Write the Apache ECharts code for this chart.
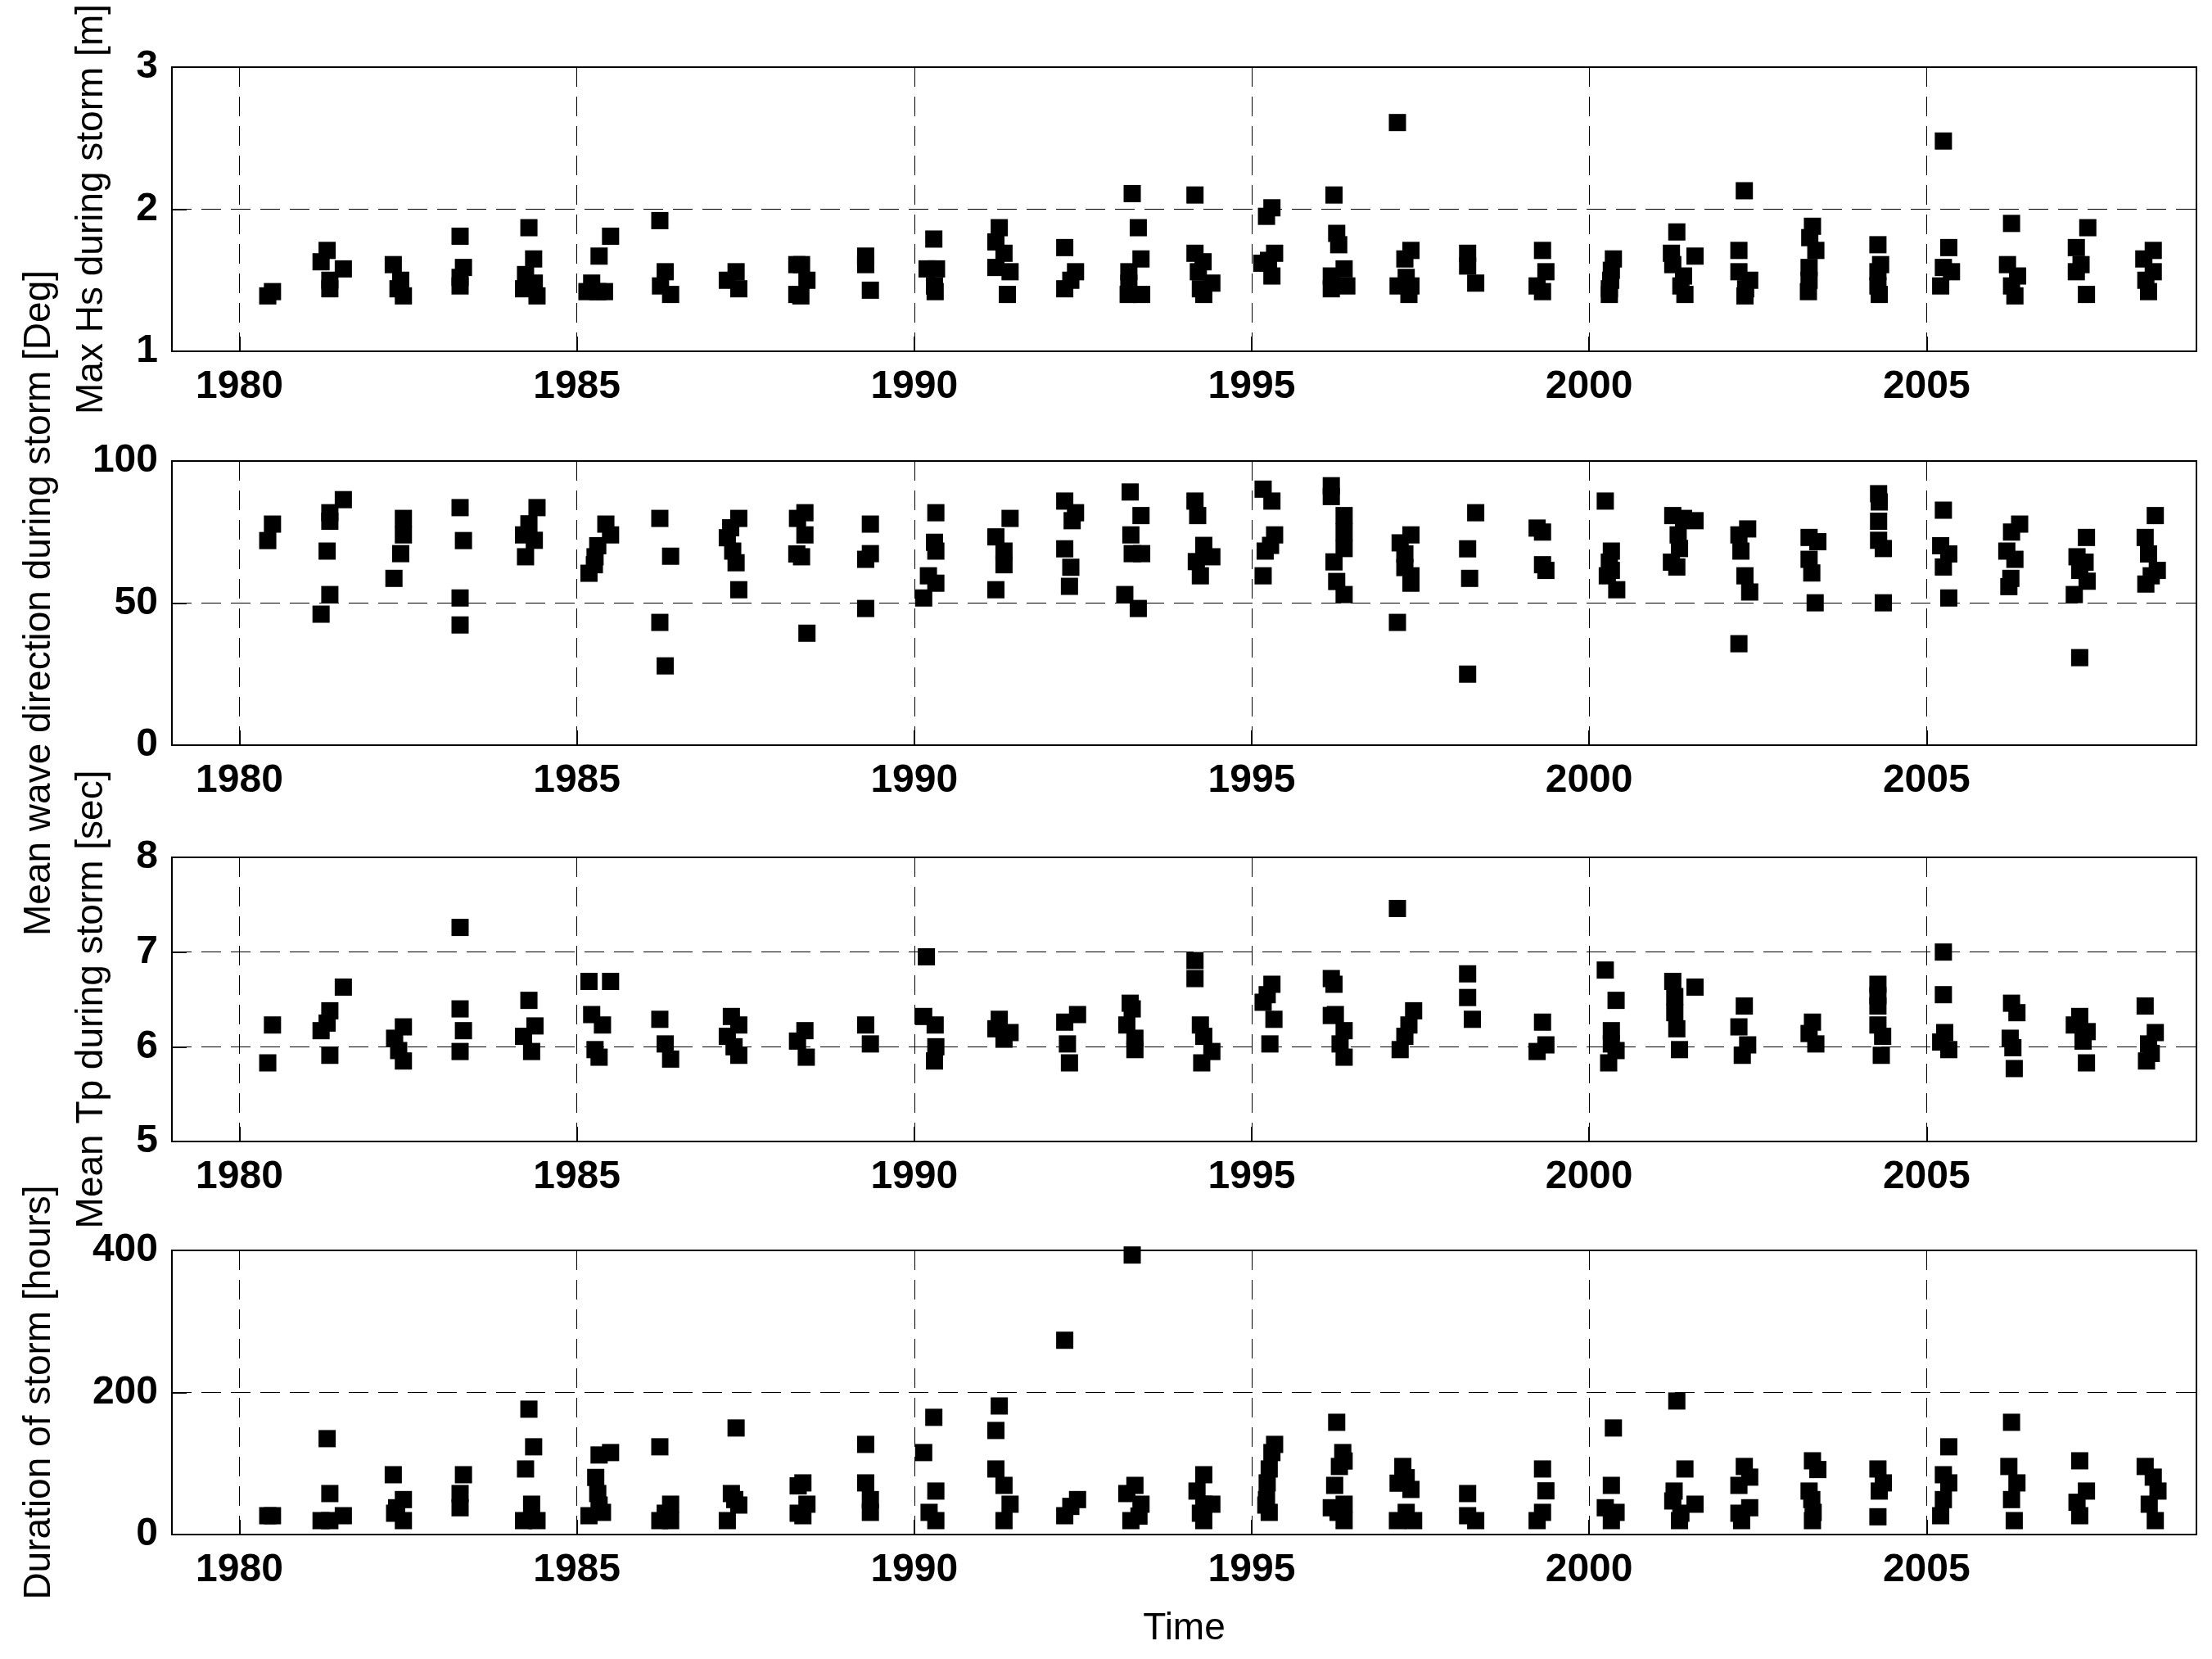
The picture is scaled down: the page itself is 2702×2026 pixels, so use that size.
<!DOCTYPE html>
<html>
<head>
<meta charset="utf-8">
<script src="https://cdn.jsdelivr.net/npm/echarts@6/dist/echarts.min.js"></script>
<style>
  html, body { margin: 0; background: #fff; }
  #chart { width: 2702px; height: 2026px; }
</style>
</head>
<body>
<div id="chart"></div>
<script>
// storm statistics, one [time (decimal year), value] pair per storm

const hsPoints = [
  [1980.49,1.42],[1980.42,1.39],
  [1981.30,1.71],[1981.21,1.63],[1981.54,1.58],[1981.34,1.50],[1981.34,1.44],
  [1982.28,1.61],[1982.39,1.50],[1982.35,1.44],[1982.43,1.39],
  [1983.27,1.81],[1983.32,1.59],[1983.27,1.52],[1983.27,1.46],
  [1984.29,1.87],[1984.36,1.65],[1984.24,1.54],[1984.21,1.44],[1984.37,1.48],[1984.41,1.39],
  [1985.50,1.81],[1985.33,1.67],[1985.22,1.48],[1985.31,1.42],[1985.41,1.42],[1985.15,1.42],
  [1986.23,1.92],[1986.31,1.56],[1986.24,1.46],[1986.39,1.40],
  [1987.36,1.56],[1987.23,1.50],[1987.40,1.44],
  [1988.26,1.61],[1988.33,1.61],[1988.41,1.50],[1988.32,1.39],[1988.26,1.40],
  [1989.28,1.67],[1989.28,1.61],[1989.35,1.43],
  [1990.29,1.79],[1990.19,1.58],[1990.33,1.58],[1990.30,1.46],[1990.31,1.42],
  [1991.26,1.87],[1991.21,1.77],[1991.33,1.69],[1991.21,1.59],[1991.42,1.56],[1991.38,1.40],
  [1992.23,1.73],[1992.39,1.56],[1992.32,1.50],[1992.23,1.44],
  [1993.23,2.11],[1993.32,1.87],[1993.36,1.65],[1993.18,1.56],[1993.18,1.48],[1993.17,1.40],[1993.37,1.40],
  [1994.16,2.10],[1994.16,1.69],[1994.28,1.63],[1994.21,1.56],[1994.41,1.48],[1994.24,1.44],[1994.29,1.40],
  [1995.30,2.01],[1995.22,1.95],[1995.34,1.69],[1995.15,1.62],[1995.25,1.64],[1995.30,1.53],
  [1996.22,2.10],[1996.26,1.83],[1996.29,1.75],[1996.37,1.58],[1996.18,1.53],[1996.41,1.46],[1996.18,1.44],
  [1997.16,2.61],[1997.36,1.71],[1997.27,1.65],[1997.29,1.52],[1997.36,1.46],[1997.33,1.40],[1997.17,1.46],
  [1998.20,1.69],[1998.20,1.60],[1998.32,1.48],
  [1999.31,1.71],[1999.36,1.56],[1999.23,1.46],[1999.31,1.42],
  [2000.36,1.65],[2000.33,1.57],[2000.32,1.50],[2000.30,1.44],[2000.30,1.40],
  [2001.30,1.84],[2001.22,1.69],[2001.57,1.67],[2001.24,1.61],[2001.40,1.53],[2001.36,1.46],[2001.42,1.40],
  [2002.30,2.13],[2002.22,1.71],[2002.22,1.56],[2002.38,1.50],[2002.32,1.44],[2002.31,1.39],
  [2003.31,1.88],[2003.27,1.80],[2003.36,1.71],[2003.26,1.59],[2003.26,1.50],[2003.25,1.42],
  [2004.28,1.75],[2004.32,1.61],[2004.28,1.56],[2004.28,1.46],[2004.30,1.40],
  [2005.25,2.48],[2005.33,1.73],[2005.25,1.59],[2005.21,1.46],[2005.37,1.56],
  [2006.26,1.90],[2006.20,1.61],[2006.35,1.53],[2006.26,1.46],[2006.31,1.39],
  [2007.39,1.87],[2007.22,1.73],[2007.29,1.61],[2007.22,1.56],[2007.37,1.40],
  [2008.36,1.71],[2008.22,1.65],[2008.36,1.56],[2008.25,1.50],[2008.29,1.42]
];

const dirPoints = [
  [1980.49,77.8],[1980.42,72.0],
  [1981.54,86.4],[1981.34,81.8],[1981.34,78.8],[1981.30,68.3],[1981.34,53.0],[1981.21,46.1],
  [1982.43,79.8],[1982.43,74.0],[1982.39,67.4],[1982.29,58.7],
  [1983.27,83.6],[1983.32,72.0],[1983.27,51.8],[1983.27,42.3],
  [1984.41,83.6],[1984.29,77.9],[1984.21,74.0],[1984.37,72.1],[1984.24,66.3],
  [1985.43,77.8],[1985.50,74.0],[1985.31,70.2],[1985.27,66.3],[1985.26,63.5],[1985.18,60.5],
  [1986.23,79.8],[1986.39,66.5],[1986.23,43.2],[1986.31,27.9],
  [1987.40,79.8],[1987.28,76.5],[1987.23,73.0],[1987.31,68.3],[1987.36,64.2],[1987.40,54.7],
  [1988.38,81.8],[1988.27,79.8],[1988.38,74.0],[1988.26,67.3],[1988.33,66.3],[1988.41,39.4],
  [1989.35,77.8],[1989.35,67.4],[1989.28,65.4],[1989.28,48.1],
  [1990.32,81.8],[1990.30,71.4],[1990.32,68.3],[1990.21,59.6],[1990.32,57.0],[1990.14,51.8],
  [1991.42,79.8],[1991.21,73.3],[1991.33,68.3],[1991.33,63.5],[1991.21,54.7],
  [1992.23,85.9],[1992.39,81.8],[1992.34,79.0],[1992.23,69.1],[1992.32,62.6],[1992.30,55.9],
  [1993.20,89.1],[1993.36,80.8],[1993.21,74.0],[1993.23,67.4],[1993.37,67.4],[1993.12,53.0],[1993.32,48.1],
  [1994.16,85.9],[1994.20,80.8],[1994.29,70.3],[1994.41,66.3],[1994.18,64.6],[1994.24,59.6],
  [1995.17,90.1],[1995.30,85.9],[1995.34,74.0],[1995.28,70.3],[1995.20,68.3],[1995.17,59.6],
  [1996.18,91.3],[1996.18,87.5],[1996.37,80.8],[1996.37,75.0],[1996.37,69.2],[1996.22,64.5],[1996.26,57.6],[1996.37,53.0],
  [1997.36,74.0],[1997.20,71.2],[1997.27,67.3],[1997.27,62.5],[1997.36,59.6],[1997.36,57.0],[1997.16,43.2],
  [1998.32,81.8],[1998.20,69.1],[1998.23,58.7],[1998.20,25.0],
  [1999.23,76.4],[1999.31,75.0],[1999.31,63.5],[1999.36,61.5],
  [2000.24,85.9],[2000.33,68.3],[2000.30,64.4],[2000.33,61.5],[2000.27,59.6],[2000.41,54.7],
  [2001.24,80.8],[2001.57,79.0],[2001.40,79.8],[2001.32,74.0],[2001.34,69.2],[2001.22,64.4],[2001.30,62.7],
  [2002.35,76.1],[2002.22,74.0],[2002.25,68.3],[2002.31,59.6],[2002.38,53.9],[2002.22,35.7],
  [2003.26,73.1],[2003.39,71.6],[2003.26,65.4],[2003.30,60.6],[2003.35,50.1],
  [2004.29,88.5],[2004.30,85.6],[2004.29,78.8],[2004.29,72.1],[2004.36,69.2],[2004.36,50.1],
  [2005.25,82.7],[2005.21,70.2],[2005.33,67.3],[2005.25,62.7],[2005.33,51.8],
  [2006.38,77.8],[2006.26,75.0],[2006.19,68.3],[2006.31,65.4],[2006.25,58.7],[2006.22,55.8],
  [2007.37,73.1],[2007.23,66.3],[2007.35,64.4],[2007.27,61.5],[2007.38,57.7],[2007.19,53.0],[2007.27,30.8],
  [2008.39,80.8],[2008.24,73.1],[2008.29,67.3],[2008.42,61.5],[2008.25,56.7],[2008.33,59.6]
];

const tpPoints = [
  [1980.49,6.23],[1980.42,5.83],
  [1981.54,6.63],[1981.34,6.38],[1981.30,6.25],[1981.21,6.17],[1981.34,5.91],
  [1982.43,6.21],[1982.30,6.09],[1982.36,5.96],[1982.43,5.85],
  [1983.27,7.26],[1983.27,6.40],[1983.32,6.17],[1983.27,5.95],
  [1984.29,6.49],[1984.38,6.22],[1984.21,6.11],[1984.33,5.95],
  [1985.18,6.69],[1985.50,6.69],[1985.22,6.34],[1985.38,6.23],[1985.27,5.97],[1985.33,5.89],
  [1986.23,6.29],[1986.31,6.03],[1986.39,5.87],
  [1987.29,6.32],[1987.40,6.23],[1987.23,6.11],[1987.33,6.00],[1987.40,5.91],
  [1988.38,6.17],[1988.27,6.06],[1988.40,5.89],
  [1989.28,6.23],[1989.35,6.03],
  [1990.18,6.95],[1990.14,6.32],[1990.31,6.23],[1990.32,6.00],[1990.30,5.85],
  [1991.26,6.29],[1991.21,6.19],[1991.42,6.15],[1991.33,6.08],
  [1992.42,6.34],[1992.23,6.26],[1992.27,6.03],[1992.30,5.83],
  [1993.20,6.46],[1993.23,6.40],[1993.15,6.23],[1993.27,6.09],[1993.27,5.97],
  [1994.16,6.91],[1994.16,6.72],[1994.24,6.23],[1994.29,6.11],[1994.41,5.95],[1994.26,5.83],
  [1995.30,6.66],[1995.23,6.55],[1995.17,6.47],[1995.33,6.29],[1995.27,6.03],
  [1996.18,6.72],[1996.22,6.66],[1996.24,6.34],[1996.18,6.33],[1996.37,6.17],[1996.31,6.03],[1996.37,5.89],
  [1997.16,7.46],[1997.40,6.38],[1997.33,6.23],[1997.27,6.11],[1997.20,5.97],
  [1998.20,6.77],[1998.20,6.52],[1998.27,6.29],
  [1999.31,6.26],[1999.36,6.02],[1999.23,5.95],
  [2000.24,6.81],[2000.40,6.49],[2000.33,6.17],[2000.33,6.03],[2000.40,5.96],[2000.29,5.83],
  [2001.24,6.69],[2001.57,6.63],[2001.27,6.53],[2001.27,6.36],[2001.30,6.19],[2001.34,5.97],
  [2002.30,6.43],[2002.22,6.21],[2002.35,6.02],[2002.27,5.91],
  [2003.31,6.26],[2003.26,6.14],[2003.36,6.03],
  [2004.28,6.66],[2004.28,6.54],[2004.28,6.43],[2004.28,6.23],[2004.35,6.11],[2004.33,5.91],
  [2005.25,7.00],[2005.25,6.55],[2005.27,6.15],[2005.21,6.05],[2005.33,5.97],
  [2006.26,6.46],[2006.34,6.36],[2006.24,6.09],[2006.28,5.99],[2006.30,5.77],
  [2007.27,6.32],[2007.19,6.23],[2007.38,6.16],[2007.32,6.06],[2007.37,5.83],
  [2008.24,6.43],[2008.39,6.15],[2008.29,6.03],[2008.33,5.93],[2008.26,5.85]
];

const durPoints = [
  [1980.42,26.5],[1980.49,26.5],
  [1981.30,135],[1981.34,57.7],[1981.54,26.5],[1981.21,19.6],[1981.34,19.6],
  [1982.28,84.2],[1982.43,49.2],[1982.33,37.7],[1982.30,30],[1982.43,19.6],
  [1983.32,84.2],[1983.27,57.7],[1983.27,37.7],
  [1984.29,176.5],[1984.36,123.5],[1984.24,92.3],[1984.33,42.7],[1984.21,19.6],[1984.41,19.6],
  [1985.50,115.4],[1985.33,112],[1985.28,80.4],[1985.31,57.7],[1985.33,41.5],[1985.38,31.2],[1985.18,26.5],
  [1986.23,123.5],[1986.39,42.7],[1986.31,30],[1986.23,19.6],[1986.39,19.6],
  [1987.36,150],[1987.29,57.7],[1987.34,49.2],[1987.40,41.5],[1987.23,19.6],
  [1988.35,72.7],[1988.28,68.5],[1988.41,42.7],[1988.28,30],[1988.35,26.5],
  [1989.28,126.9],[1989.28,72.7],[1989.35,49.2],[1989.35,31.2],
  [1990.29,165],[1990.14,115.4],[1990.32,61.2],[1990.22,31.2],[1990.32,19.6],
  [1991.26,181],[1991.21,146.5],[1991.21,92.3],[1991.33,69.2],[1991.42,42.7],[1991.33,19.6],
  [1992.23,273.5],[1992.42,49.2],[1992.32,39.6],[1992.23,26.5],
  [1993.23,393.5],[1993.27,69.2],[1993.15,57.7],[1993.36,42.7],[1993.33,26],[1993.21,19.6],
  [1994.29,84.2],[1994.19,61.2],[1994.29,42.7],[1994.41,42.7],[1994.24,30],[1994.29,19.6],
  [1995.34,126.9],[1995.30,115.4],[1995.26,92.3],[1995.23,72.7],[1995.22,49.2],[1995.21,41.5],[1995.26,31.2],
  [1996.26,158],[1996.35,115.4],[1996.37,103.5],[1996.30,95.8],[1996.23,69.2],[1996.37,42.7],[1996.18,37.7],[1996.28,31.2],[1996.37,19.6],
  [1997.24,95.8],[1997.29,80],[1997.17,72.3],[1997.36,63.5],[1997.29,31.2],[1997.16,19.6],[1997.40,19.6],
  [1998.20,57.7],[1998.20,26.5],[1998.32,19.6],
  [1999.31,92.3],[1999.36,61.5],[1999.31,31.2],[1999.23,19.6],
  [2000.36,150],[2000.33,69.2],[2000.24,37.7],[2000.40,31.2],[2000.33,19.6],
  [2001.30,188],[2001.42,92.3],[2001.26,61.2],[2001.24,47.3],[2001.57,42.7],[2001.36,30],[2001.34,19.6],
  [2002.30,95.8],[2002.38,80.8],[2002.22,69.2],[2002.38,37.7],[2002.22,30],[2002.26,19.6],
  [2003.31,103.8],[2003.39,91.5],[2003.26,61.2],[2003.30,49.2],[2003.32,31.2],[2003.31,19.6],
  [2004.28,92.3],[2004.36,72.7],[2004.30,61.2],[2004.28,25],
  [2005.33,123.5],[2005.25,84.2],[2005.33,72.7],[2005.25,49.2],[2005.21,26.5],
  [2006.26,158],[2006.22,95.8],[2006.34,72.7],[2006.26,49.2],[2006.30,19.6],
  [2007.27,103.8],[2007.37,61.2],[2007.23,45.4],[2007.27,26.5],
  [2008.24,95.8],[2008.36,80.8],[2008.43,61.2],[2008.30,42.7],[2008.39,19.6]
];

const panelNames = [
  'Max Hs during storm [m]',
  'Mean wave direction during storm [Deg]',
  'Mean Tp during storm [sec]',
  'Duration of storm [hours]'
];
const yMins = [1, 0, 5, 0];
const yMaxs = [3, 100, 8, 400];
const ySteps = [1, 50, 1, 200];
const timeRange = [1979, 2009];
const allPoints = [hsPoints, dirPoints, tpPoints, durPoints];

// layout
const FONT = 'Arial, "Liberation Sans", sans-serif';
const panelTops = [82, 563, 1047, 1527];
const panelHeight = 347;
const nameGaps = [75, 139, 75, 139];

const dashed = { type: [24, 12], color: '#000', width: 1 };

const chart = echarts.init(document.getElementById('chart'));

const grids = panelTops.map(top => ({
  left: 210, right: 19, top: top, height: panelHeight,
  show: true, borderColor: '#000', borderWidth: 2, backgroundColor: '#fff'
}));

const xAxes = panelTops.map((t, i) => ({
  gridIndex: i,
  type: 'value',
  min: timeRange[0],
  max: timeRange[1],
  minInterval: 5,
  maxInterval: 5,
  splitNumber: 6,
  axisLine: { show: false },
  axisTick: { inside: true, length: 18, lineStyle: { color: '#000', width: 2 } },
  axisLabel: {
    fontSize: 48, fontWeight: 'bold', color: '#000', fontFamily: FONT,
    margin: 20, showMinLabel: false, showMaxLabel: false,
    formatter: v => String(v)
  },
  splitLine: { show: true, lineStyle: dashed },
  name: i === 3 ? 'Time' : '',
  nameLocation: 'middle',
  nameGap: 92,
  nameTextStyle: { fontSize: 46, color: '#000', fontFamily: FONT }
}));

const yAxes = panelTops.map((t, i) => ({
  gridIndex: i,
  type: 'value',
  min: yMins[i],
  max: yMaxs[i],
  interval: ySteps[i],
  axisLine: { show: false },
  axisTick: { inside: true, length: 18, lineStyle: { color: '#000', width: 2 } },
  axisLabel: { fontSize: 48, fontWeight: 'bold', color: '#000', fontFamily: FONT, margin: 17 },
  splitLine: { show: true, lineStyle: dashed },
  name: panelNames[i],
  nameLocation: 'middle',
  nameGap: nameGaps[i],
  nameTextStyle: { fontSize: 46, color: '#000', fontFamily: FONT }
}));

const series = allPoints.map((pts, i) => ({
  type: 'scatter',
  xAxisIndex: i,
  yAxisIndex: i,
  symbol: 'rect',
  symbolSize: 21,
  itemStyle: { color: '#000', opacity: 1 },
  data: pts
}));

chart.setOption({
  animation: false,
  backgroundColor: '#fff',
  grid: grids,
  xAxis: xAxes,
  yAxis: yAxes,
  series: series
});
</script>
</body>
</html>
